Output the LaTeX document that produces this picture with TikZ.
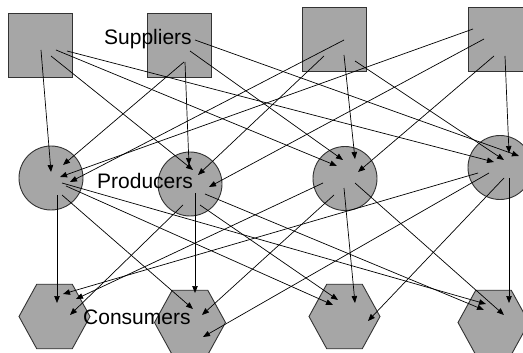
\documentclass[tikz,border=0pt]{standalone}
\usepackage{fontspec}
\newfontfamily\labelfont{Liberation Sans}
\usetikzlibrary{arrows.meta, shapes.geometric}
\definecolor{shapegray}{RGB}{166,166,166}

\begin{document}
\begin{tikzpicture}[x=1pt, y=-1pt,
  shp/.style={draw=black!80, fill=shapegray, line width=0.9pt, inner sep=0pt},
  supplier/.style={shp, rectangle, minimum size=64pt},
  producer/.style={shp, circle, minimum size=64pt},
  consumer/.style={shp, regular polygon, regular polygon sides=6, minimum size=71pt, yscale=1.05},
  lbl/.style={font=\labelfont\fontsize{21}{25}\selectfont, inner sep=0pt, anchor=base west},
  flow/.style={-{Triangle[length=7pt, width=5.5pt]}, line width=0.7pt}]
  \useasboundingbox (0,0) rectangle (523,353);
  \clip (0,0) rectangle (523,353);
  % three tiers of the supply chain
  \path (40,45) node[supplier] (s1) {};
  \path (179,45) node[supplier] (s2) {};
  \path (334,39.5) node[supplier] (s3) {};
  \path (500,39.5) node[supplier] (s4) {};
  \path (51,178) node[producer] (p1) {};
  \path (190,184) node[producer] (p2) {};
  \path (345,178.5) node[producer] (p3) {};
  \path (500,167.5) node[producer] (p4) {};
  \path (54.5,316.5) node[consumer] (c1) {};
  \path (190,322.5) node[consumer] (c2) {};
  \path (344.5,316.5) node[consumer] (c3) {};
  \path (493.5,322.5) node[consumer] (c4) {};
  \node[lbl] (suplbl) at (104,45) {Suppliers};
  \node[lbl] (prodlbl) at (97,189) {Producers};
  \node[lbl] (conslbl) at (83,324) {Consumers};
  \draw[flow] ([shift={(1,5)}]s1.center) -- ([shift={(0,-6)}]p1.center);
  \draw[flow] ([shift={(11,11)}]s1.center) -- ([shift={(3,-14)}]p2.center);
  \draw[flow] ([shift={(16,5)}]s1.center) -- ([shift={(-8,-12.5)}]p3.center);
  \draw[flow] ([shift={(27,6)}]s1.center) -- ([shift={(-6,-5.5)}]p4.center);
  \draw[flow] ([shift={(5,17)}]s2.center) -- ([shift={(12,-13)}]p1.center);
  \draw[flow] ([shift={(6,17)}]s2.center) -- ([shift={(-1,-19)}]p2.center);
  \draw[flow] ([shift={(11,6)}]s2.center) -- ([shift={(-2,-18.5)}]p3.center);
  \draw[flow] ([shift={(16,-5)}]s2.center) -- ([shift={(19,-11.5)}]p4.center);
  \draw[flow] ([shift={(10,0.5)}]s3.center) -- ([shift={(19,4)}]p1.center);
  \draw[flow] ([shift={(-10,16.5)}]s3.center) -- ([shift={(8,-9)}]p2.center);
  \draw[flow] ([shift={(10,15.5)}]s3.center) -- ([shift={(10,-19.5)}]p3.center);
  \draw[flow] ([shift={(21,21.5)}]s3.center) -- ([shift={(4,-7.5)}]p4.center);
  \draw[flow] ([shift={(-27,-10.5)}]s4.center) -- ([shift={(9,-1)}]p1.center);
  \draw[flow] ([shift={(-16,-0.5)}]s4.center) -- ([shift={(19,3)}]p2.center);
  \draw[flow] ([shift={(-6,16.5)}]s4.center) -- ([shift={(13,-6.5)}]p3.center);
  \draw[flow] ([shift={(5,16.5)}]s4.center) -- ([shift={(9,-14.5)}]p4.center);
  \draw[flow] ([shift={(6,17)}]p1.center) -- ([shift={(2.5,-13.5)}]c1.center);
  \draw[flow] ([shift={(11,17)}]p1.center) -- ([shift={(3,-13.5)}]c2.center);
  \draw[flow] ([shift={(15,8)}]p1.center) -- ([shift={(-11.5,-11.5)}]c3.center);
  \draw[flow] ([shift={(11,5)}]p1.center) -- ([shift={(-7.5,-18.5)}]c4.center);
  \draw[flow] ([shift={(-7,21)}]p2.center) -- ([shift={(15.5,-1.5)}]c1.center);
  \draw[flow] ([shift={(5,9)}]p2.center) -- ([shift={(5,-29.5)}]c2.center);
  \draw[flow] ([shift={(10,21)}]p2.center) -- ([shift={(-6.5,-16.5)}]c3.center);
  \draw[flow] ([shift={(15,10)}]p2.center) -- ([shift={(-9.5,-12.5)}]c4.center);
  \draw[flow] ([shift={(-22,4.5)}]p3.center) -- ([shift={(21.5,-17.5)}]c1.center);
  \draw[flow] ([shift={(-11,16.5)}]p3.center) -- ([shift={(12,-7.5)}]c2.center);
  \draw[flow] ([shift={(-1,9.5)}]p3.center) -- ([shift={(10.5,-13.5)}]c3.center);
  \draw[flow] ([shift={(10,4.5)}]p3.center) -- ([shift={(10.5,-7.5)}]c4.center);
  \draw[flow] ([shift={(-22,5.5)}]p4.center) -- ([shift={(8.5,-22.5)}]c1.center);
  \draw[flow] ([shift={(-11,5.5)}]p4.center) -- ([shift={(13,14.5)}]c2.center);
  \draw[flow] ([shift={(4,10.5)}]p4.center) -- ([shift={(23.5,4.5)}]c3.center);
  \draw[flow] ([shift={(9,10.5)}]p4.center) -- ([shift={(15.5,-19.5)}]c4.center);
\end{tikzpicture}
\end{document}
